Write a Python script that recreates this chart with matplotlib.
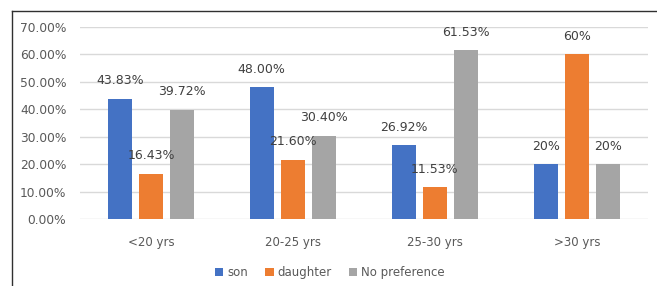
import matplotlib
matplotlib.use('Agg')
import matplotlib.pyplot as plt
from matplotlib.lines import Line2D
import numpy as np

categories = ['<20 yrs', '20-25 yrs', '25-30 yrs', '>30 yrs']
son = [43.83, 48.00, 26.92, 20]
daughter = [16.43, 21.60, 11.53, 60]
no_pref = [39.72, 30.40, 61.53, 20]
son_lbl = ['43.83%', '48.00%', '26.92%', '20%']
daughter_lbl = ['16.43%', '21.60%', '11.53%', '60%']
no_pref_lbl = ['39.72%', '30.40%', '61.53%', '20%']

fig = plt.figure(figsize=(6.57, 2.86), dpi=100)
ax = fig.add_axes([0.122, 0.234, 0.864, 0.672])

x = np.arange(len(categories))
w = 0.17
step = 0.22
series = [(son, son_lbl, '#4472C4', 'son'),
          (daughter, daughter_lbl, '#ED7D31', 'daughter'),
          (no_pref, no_pref_lbl, '#A5A5A5', 'No preference')]
for i, (vals, lbls, col, name) in enumerate(series):
    xs = x + (i - 1) * step
    ax.bar(xs, vals, width=w, color=col, label=name, zorder=3)
    for xi, v, t in zip(xs, vals, lbls):
        ax.annotate(t, (xi, v), xytext=(0, 13), textcoords='offset points',
                    ha='center', va='center', fontsize=9, color='#404040', zorder=4)

ax.set_xlim(-0.5, 3.5)
ax.set_ylim(0, 70)
ax.set_yticks(np.arange(0, 71, 10))
ax.set_yticklabels(['%.2f%%' % v for v in np.arange(0, 71, 10)], fontsize=8.8, color='#595959')
ax.set_xticks(x)
ax.set_xticklabels(categories, fontsize=8.5, color='#595959')
ax.tick_params(axis='both', length=0)
ax.tick_params(axis='y', pad=10)
ax.tick_params(axis='x', pad=12)
ax.yaxis.grid(True, color='#D9D9D9', linewidth=1, zorder=0)
for s in ax.spines.values():
    s.set_visible(False)

ax.legend(loc='center', bbox_to_anchor=(0.44, -0.28), ncol=3, frameon=False,
          fontsize=8.5, handlelength=0.7, handleheight=0.7, handletextpad=0.3,
          columnspacing=1.5, labelcolor='#595959')

# outer frame (top and left)
fig.add_artist(Line2D([12/657, 656/657], [1 - 11/286, 1 - 11/286], color='#303030', lw=1))
fig.add_artist(Line2D([12/657, 12/657], [0, 1 - 11/286], color='#303030', lw=1))

plt.savefig('out.png', dpi=100)
plt.close()
